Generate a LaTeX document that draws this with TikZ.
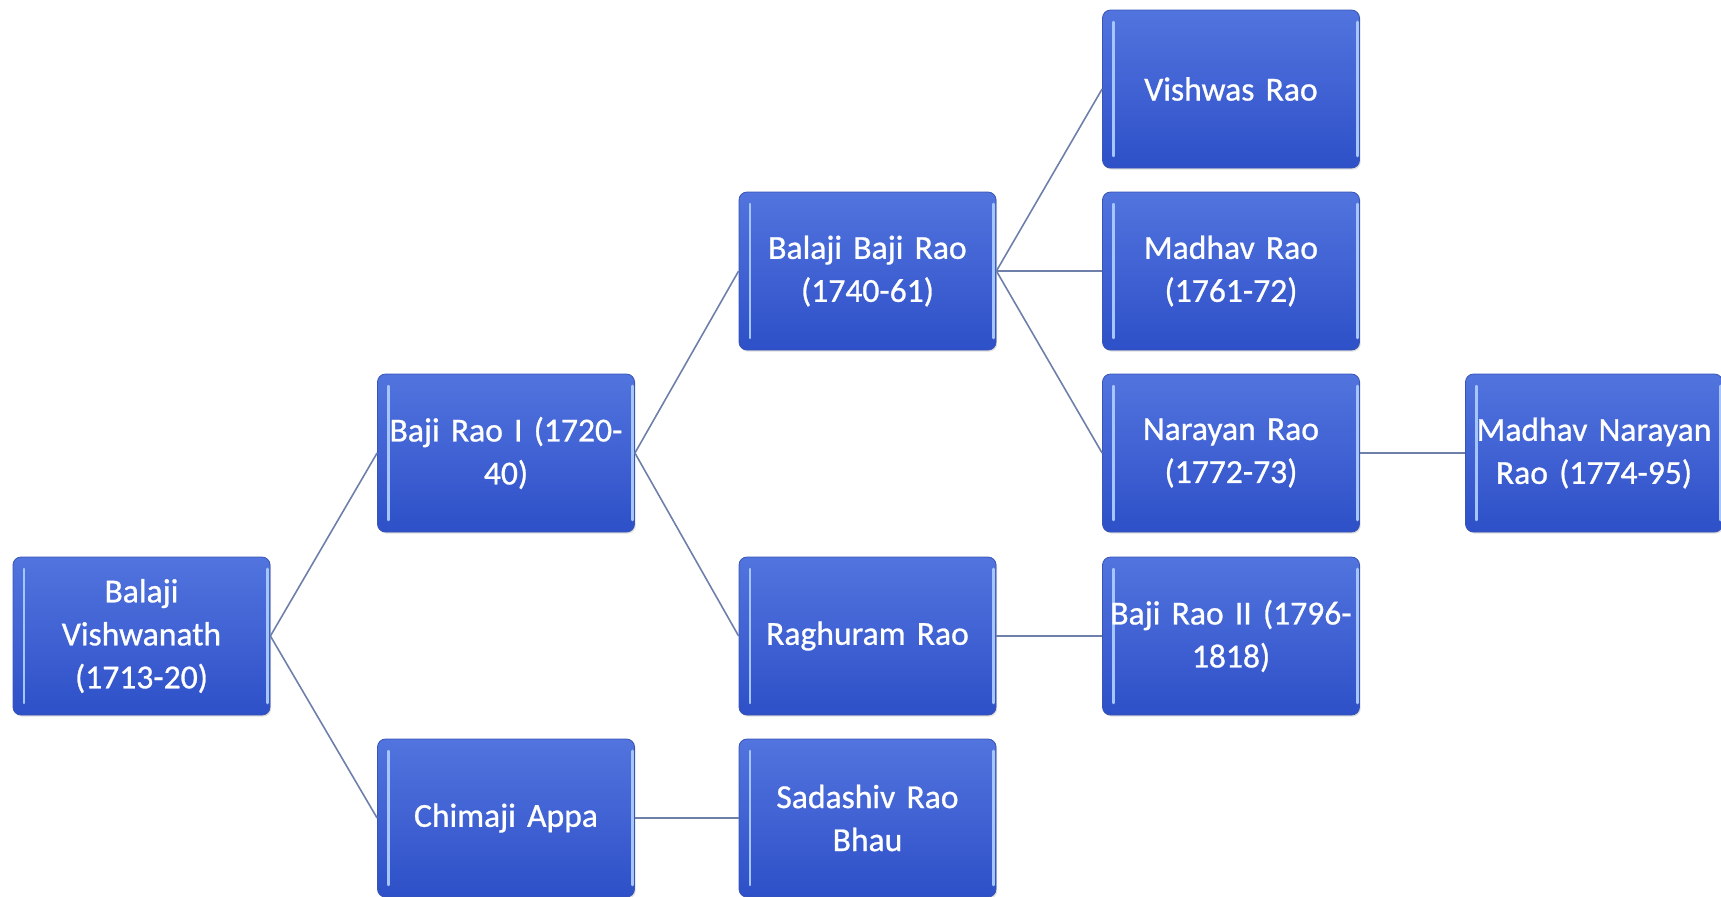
\documentclass[tikz,border=0pt]{standalone}
\usepackage{fontspec}
\setmainfont{Carlito}
\newfontfamily\boxfont{Carlito}[FakeBold=0.8]
\usetikzlibrary{shadows}
\definecolor{boxtop}{RGB}{82,116,222}
\definecolor{boxbot}{RGB}{46,80,200}
\definecolor{boxedge}{RGB}{56,84,180}
\definecolor{gloss}{RGB}{165,198,250}
\definecolor{link}{RGB}{110,128,170}
\begin{document}
\begin{tikzpicture}[x=0.5pt,y=-0.5pt,
	person/.style={rectangle,rounded corners=4pt,draw=boxedge,line width=0.4pt,
		top color=boxtop,bottom color=boxbot,
		minimum width=128.5pt,minimum height=79pt,text width=128pt,inner sep=0pt,
		align=center,text=white,font=\boxfont\fontsize{16.8}{21.5}\selectfont,
		drop shadow={shadow xshift=0.6pt,shadow yshift=-0.8pt,opacity=0.25},
		path picture={
			\draw[gloss,line width=1.2pt,line cap=round]
				([xshift=5.5pt,yshift=-6pt]path picture bounding box.north west) --
				([xshift=5.5pt,yshift=6pt]path picture bounding box.south west);
			\draw[gloss,line width=1.4pt,line cap=round]
				([xshift=-1.2pt,yshift=-6pt]path picture bounding box.north east) --
				([xshift=-1.2pt,yshift=6pt]path picture bounding box.south east);
		}},
	tie/.style={draw=link,line width=0.8pt}]
	\useasboundingbox (0,0) rectangle (1721,896);
	% first generations
	\node[person] (vishwanath) at (141.5,636) {Balaji\\Vishwanath\\(1713-20)};
	\node[person] (bajirao) at (506,453) {Baji Rao I (1720-\\40)};
	\node[person] (chimaji) at (506,818) {Chimaji Appa};
	\node[person] (balajibaji) at (867.5,271) {Balaji Baji Rao\\(1740-61)};
	\node[person] (raghuram) at (867.5,636) {Raghuram Rao};
	\node[person] (sadashiv) at (867.5,818) {Sadashiv Rao\\Bhau};
	% later generations
	\node[person] (vishwas) at (1231,89) {Vishwas Rao};
	\node[person] (madhav) at (1231,271) {Madhav Rao\\(1761-72)};
	\node[person] (narayan) at (1231,453) {Narayan Rao\\(1772-73)};
	\node[person] (bajiraotwo) at (1231,636) {Baji Rao II (1796-\\1818)};
	\node[person] (madhavnarayan) at (1594,453) {Madhav Narayan\\Rao (1774-95)};
	% links
	\draw[tie] (vishwanath.east) -- (bajirao.west);
	\draw[tie] (vishwanath.east) -- (chimaji.west);
	\draw[tie] (bajirao.east) -- (balajibaji.west);
	\draw[tie] (bajirao.east) -- (raghuram.west);
	\draw[tie] (chimaji.east) -- (sadashiv.west);
	\draw[tie] (balajibaji.east) -- (vishwas.west);
	\draw[tie] (balajibaji.east) -- (madhav.west);
	\draw[tie] (balajibaji.east) -- (narayan.west);
	\draw[tie] (raghuram.east) -- (bajiraotwo.west);
	\draw[tie] (narayan.east) -- (madhavnarayan.west);
\end{tikzpicture}
\end{document}
